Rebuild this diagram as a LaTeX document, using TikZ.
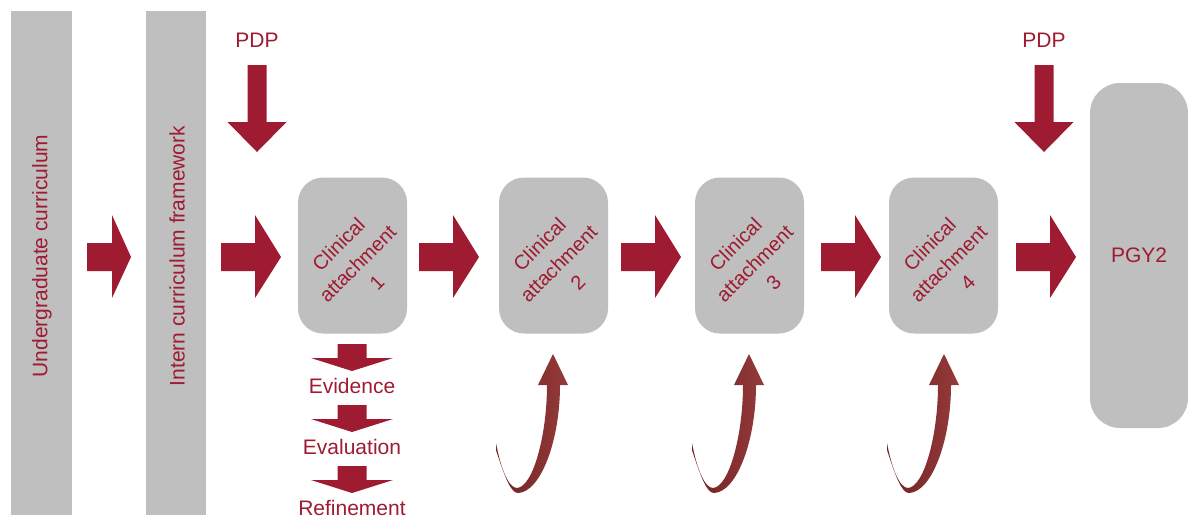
\documentclass[tikz,border=0pt]{standalone}
\usepackage{fontspec}
\setmainfont{Liberation Sans}
\usepackage{tikz}
\definecolor{crimson}{RGB}{158,27,50}
\definecolor{boxgray}{RGB}{191,191,191}
\definecolor{loopred}{RGB}{150,58,58}
\definecolor{loopdark}{RGB}{110,34,36}

\begin{document}
\begin{tikzpicture}[x=0.5pt, y=-0.5pt,
  lbl/.style={text=crimson, font=\fontsize{10.5}{12.6}\selectfont, inner sep=0pt},
  cbox/.style={fill=boxgray, rounded corners=12.5pt, minimum width=54.5pt, minimum height=78pt, inner sep=0pt},
  ctext/.style={lbl, rotate=45, align=center, font=\fontsize{10}{13.5}\selectfont}]
\useasboundingbox (0,0) rectangle (1188,516);
% curriculum bars
\fill[boxgray] (11,11) rectangle (72,515);
\fill[boxgray] (146,11) rectangle (206,515);
\node[lbl, rotate=90] (ugrad) at (42,256) {Undergraduate curriculum};
\node[lbl, rotate=90] (intern) at (177,256) {Intern curriculum framework};
% clinical attachments
\foreach \n/\x in {1/352.5, 2/553.5, 3/749.5, 4/943.5} {
  \node[cbox] (c\n) at (\x,255.5) {};
  \node[ctext] (t\n) at ([shift={(5,8)}]c\n) {Clinical\\attachment\\\n};
}
\node[cbox, text=crimson, font=\fontsize{10.5}{12.6}\selectfont, minimum width=49pt, minimum height=172.5pt, rounded corners=15pt] (pgy) at (1139,255.5) {PGY2};
% block arrows
\foreach \x/\s/\t in {87/25/44, 221/34/60, 419/34/60, 621/34/60, 821/34/60, 1016/34/60}
  \fill[crimson] (\x,243) -- (\x+\s,243) -- (\x+\s,215) -- (\x+\t,257) -- (\x+\s,298) -- (\x+\s,271) -- (\x,271) -- cycle;
\foreach \n/\x in {a/257, b/1044} {
  \node[lbl] (pdp\n) at (\x,40) {PDP};
  \fill[crimson] (\x-9.5,65) -- (\x+9.5,65) -- (\x+9.5,122) -- (\x+29.5,122) -- (\x,152) -- (\x-29.5,122) -- (\x-9.5,122) -- cycle;
}
% evidence steps
\foreach \t/\w in {344/Evidence, 405/Evaluation, 466/Refinement} {
  \fill[crimson] (337.5,\t) -- (366.5,\t) -- (366.5,\t+14) -- (393,\t+14) -- (352,\t+27) -- (311,\t+14) -- (337.5,\t+14) -- cycle;
  \node[lbl] (\w) at (352,\t+41.5) {\w};
}
% feedback loops
\foreach \x in {553, 749, 944}
  \shade[left color=loopdark, right color=loopred] (\x-57,450) .. controls (\x-48,478) and (\x-42,493) .. (\x-35,493) .. controls (\x-12,492) and (\x+7,440) .. (\x+7,385) -- (\x+15,385) -- (\x,354) -- (\x-15,385) -- (\x-6,385) .. controls (\x-6,435) and (\x-20,487) .. (\x-36,488) .. controls (\x-44,488) and (\x-52,470) .. (\x-57,443) -- cycle;
\end{tikzpicture}
\end{document}
